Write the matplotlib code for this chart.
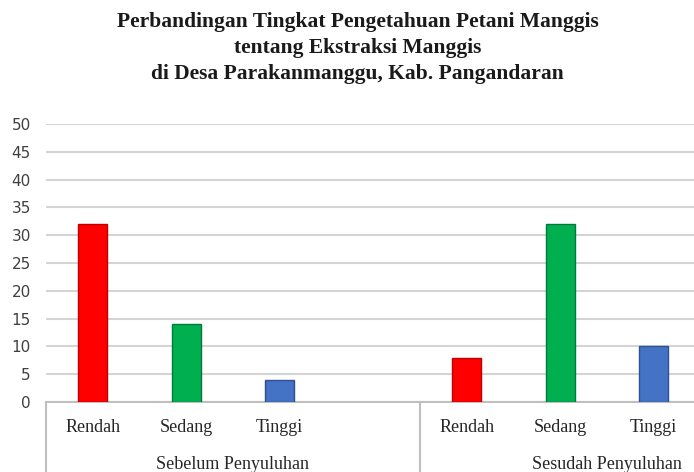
import matplotlib.pyplot as plt
from matplotlib.lines import Line2D

GRID = "#d4d4d4"
AXIS = "#bfbfbf"

title = ("Perbandingan Tingkat Pengetahuan Petani Manggis\n"
         "tentang Ekstraksi Manggis\n"
         "di Desa Parakanmanggu, Kab. Pangandaran")
groups = ["Sebelum Penyuluhan", "Sesudah Penyuluhan"]
levels = ["Rendah", "Sedang", "Tinggi"]
sebelum = [32, 14, 4]
sesudah = [8, 32, 10]
fills = ["#ff0000", "#00b050", "#4472c4"]
edges = ["#c00000", "#007a3a", "#2f528f"]

SLOTS = 4  # each group takes 4 category slots (the last one empty in group 1)

fig = plt.figure(figsize=(6.94, 4.72), dpi=100)
W, H = 694, 472
left, right, y0, y50 = 46, 694, 402, 124
ax = fig.add_axes([left / W, (H - y0) / H, (right - left) / W, (y0 - y50) / H])

xs, labels = [], []
for g, vals in enumerate([sebelum, sesudah]):
    for i, v in enumerate(vals):
        x = g * SLOTS + i
        ax.bar(x, v, width=0.31, color=fills[i], edgecolor=edges[i],
               linewidth=1.0, zorder=3)
        xs.append(x)
        labels.append(levels[i])

slot_px = 93.5
ax.set_xlim(-0.5, -0.5 + (right - left) / slot_px)
ax.set_ylim(0, 50)
ax.set_yticks(range(0, 51, 5))
ax.yaxis.grid(True, color=GRID, linewidth=1.5, zorder=0)
ax.set_axisbelow(True)
ax.tick_params(axis="y", length=0, pad=11, labelsize=11, labelcolor="#404040")
ax.set_xticks([])
for s in ["top", "right", "left"]:
    ax.spines[s].set_visible(False)
ax.spines["bottom"].set_color(AXIS)
ax.spines["bottom"].set_linewidth(1.5)

trans = ax.get_xaxis_transform()
serif = "Liberation Serif"
for x, lab in zip(xs, labels):
    ax.text(x, -0.0935, lab, transform=trans, ha="center", va="center",
            fontsize=13, family=serif, color="#262626")
for g, name in enumerate(groups):
    ax.text(g * SLOTS + (SLOTS - 1) / 2, -0.2266, name, transform=trans,
            ha="center", va="center", fontsize=13, family=serif,
            color="#262626")
    sep = g * SLOTS - 0.5
    ax.add_line(Line2D([sep, sep], [0, -0.3], transform=trans, color=AXIS,
                       linewidth=1.5, clip_on=False))

fig.text(0.515, 0.898, title, ha="center", va="center", fontsize=15.5,
         fontweight="bold", family=serif, linespacing=1.38, color="#1a1a1a")

fig.savefig("out.png", dpi=100, facecolor="white")
